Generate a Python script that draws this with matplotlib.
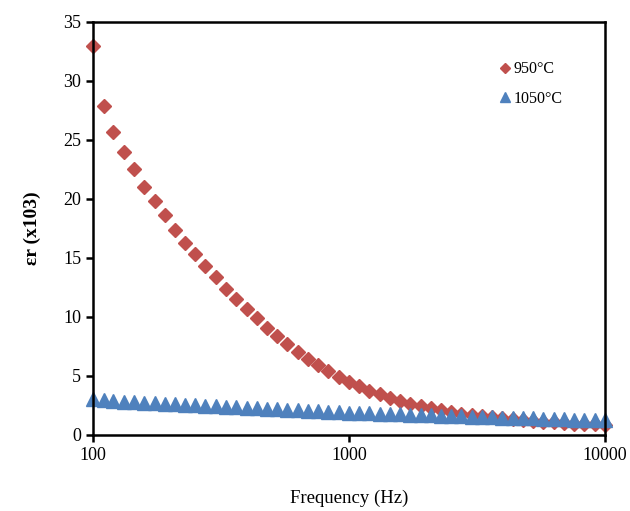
import matplotlib
matplotlib.use("Agg")
import matplotlib.pyplot as plt
from matplotlib.ticker import FixedLocator, NullLocator

plt.rcParams['font.family'] = ['Liberation Serif', 'DejaVu Serif']

# frequency points (Hz)
freq = [100, 110, 120, 132, 145, 158, 174, 191, 209, 229, 251, 275, 302, 331,
        363, 398, 437, 479, 525, 575, 631, 692, 759, 832, 912, 1000,
        1096, 1202, 1318, 1445, 1585, 1738, 1905, 2089, 2291, 2512, 2754,
        3020, 3311, 3631, 3981, 4365, 4786, 5248, 5754, 6310, 6918, 7586,
        8318, 9120, 10000]

# 950°C  (x10^3)
er_950 = [33.0, 27.9, 25.7, 24.0, 22.5, 21.0, 19.8, 18.6, 17.4, 16.3, 15.3,
          14.3, 13.4, 12.4, 11.5, 10.7, 9.9, 9.1, 8.4, 7.7, 7.0, 6.4, 5.9,
          5.4, 4.9, 4.5, 4.1, 3.75, 3.45, 3.15, 2.9, 2.65, 2.45, 2.25, 2.1,
          1.95, 1.8, 1.68, 1.58, 1.48, 1.4, 1.32, 1.25, 1.18, 1.12, 1.06,
          1.01, 0.96, 0.92, 0.88, 0.84]

# 1050°C (x10^3)
er_1050 = [3.0, 2.93, 2.87, 2.82, 2.77, 2.72, 2.67, 2.62, 2.58, 2.53, 2.49,
           2.45, 2.41, 2.37, 2.33, 2.29, 2.25, 2.21, 2.17, 2.13, 2.09, 2.05,
           2.01, 1.97, 1.93, 1.89, 1.86, 1.83, 1.80, 1.77, 1.74, 1.71, 1.68,
           1.65, 1.62, 1.59, 1.57, 1.54, 1.51, 1.49, 1.46, 1.44, 1.41, 1.39,
           1.36, 1.34, 1.31, 1.29, 1.27, 1.24, 1.22]

fig = plt.figure(figsize=(6.3, 5.11), dpi=100)
ax = fig.add_axes([0.1476, 0.149, 0.8124, 0.808])

ax.plot(freq, er_950, linestyle='none', marker='D', ms=7.5,
        color='#C0504D', label='950°C', clip_on=False, zorder=3)
ax.plot(freq, er_1050, linestyle='none', marker='^', ms=10,
        color='#4F81BD', label='1050°C', clip_on=False, zorder=4)

ax.set_xscale('log')
ax.set_xlim(100, 10000)
ax.set_ylim(0, 35)
ax.xaxis.set_major_locator(FixedLocator([100, 1000, 10000]))
ax.xaxis.set_minor_locator(NullLocator())
ax.set_xticklabels(['100', '1000', '10000'])
ax.set_yticks(range(0, 36, 5))

for s in ax.spines.values():
    s.set_linewidth(1.8)
    s.set_zorder(5)
ax.tick_params(direction='out', length=5, width=1.8, labelsize=13)

ax.set_xlabel('Frequency (Hz)', fontsize=13.5, labelpad=19)
ax.set_ylabel('εr (x103)', fontsize=14, fontweight='bold', labelpad=16)

ax.legend(loc='upper left', bbox_to_anchor=(0.762, 0.94), frameon=False,
          fontsize=11.5, handletextpad=0.0, handlelength=1.0,
          labelspacing=0.85, markerscale=0.7)

fig.savefig('out.png', dpi=100)
